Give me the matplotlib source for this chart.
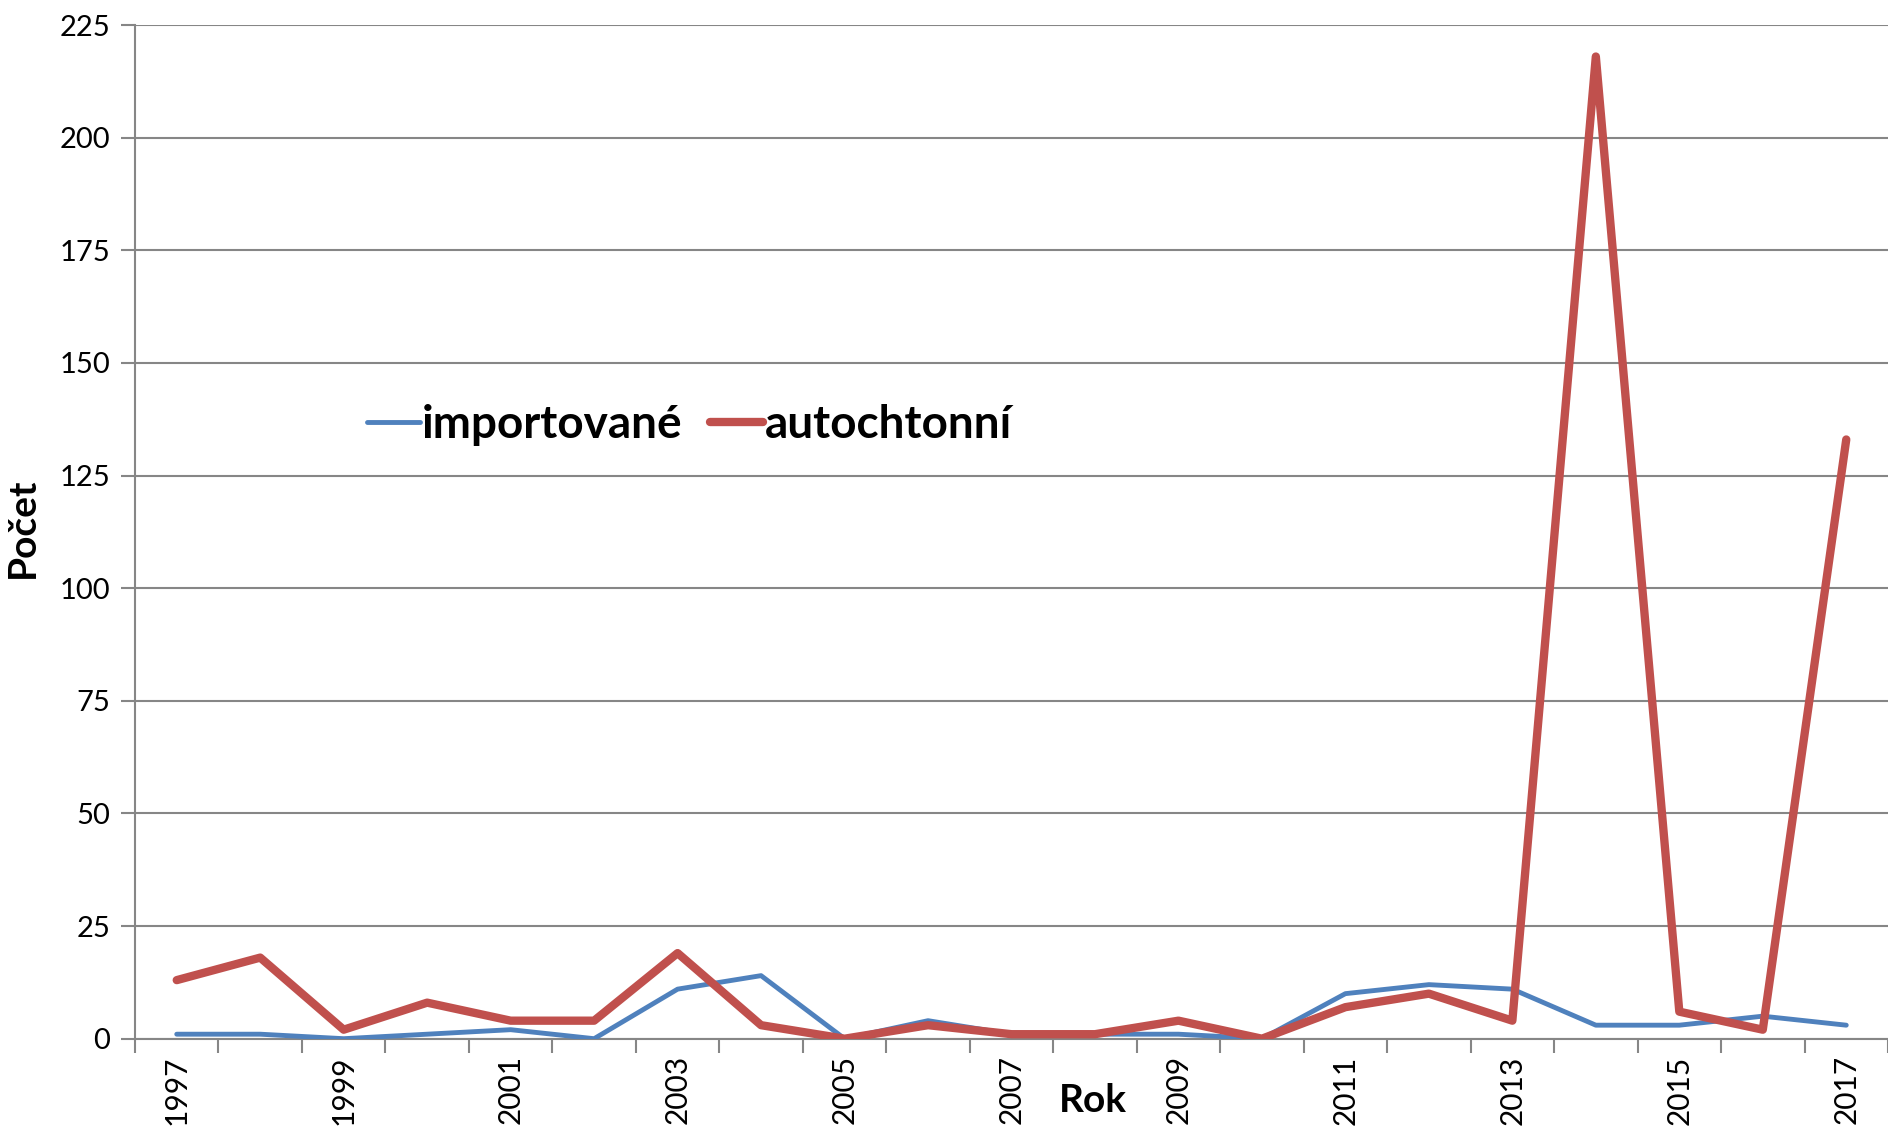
import numpy as np
import matplotlib
matplotlib.use('Agg')
import matplotlib.pyplot as plt

# Données
roky = list(range(1997, 2018))
importovane = [1, 1, 0, 1, 2, 0, 11, 14, 0, 4, 1, 1, 1, 0, 10, 12, 11, 3, 3, 5, 3]
autochtonni = [13, 18, 2, 8, 4, 4, 19, 3, 0, 3, 1, 1, 4, 0, 7, 10, 4, 218, 6, 2, 133]
y_ticks = [0, 25, 50, 75, 100, 125, 150, 175, 200, 225]

plt.rcParams['font.family'] = ['Lato', 'DejaVu Sans']

W, H = 1888, 1126
fig = plt.figure(figsize=(W / 100, H / 100), dpi=100)
ax = fig.add_axes([135 / W, 1 - 1038.7 / H, 1 - 135 / W, (1038.7 - 25) / H])

x = np.arange(len(roky))
ax.plot(x, importovane, color='#4F81BD', lw=3.5, solid_capstyle='round',
        solid_joinstyle='round', label='importované', zorder=3)
ax.plot(x, autochtonni, color='#C0504D', lw=6, solid_capstyle='round',
        solid_joinstyle='round', label='autochtonní', zorder=4)

ax.set_xlim(-0.5, len(roky) - 0.5)
ax.set_ylim(0, 225)
ax.set_yticks(y_ticks)
ax.set_yticklabels([str(v) for v in y_ticks], fontsize=21)
ax.yaxis.grid(True, color='#868686', lw=1.5)
ax.set_axisbelow(True)

# popisky let - jen každý druhý rok
ax.set_xticks(x[::2])
ax.set_xticklabels([str(r) for r in roky[::2]], rotation=90, fontsize=21.5)
ax.set_xticks(np.arange(-0.5, len(roky), 1), minor=True)
ax.tick_params(axis='x', which='major', length=0, pad=12)
ax.tick_params(axis='x', which='minor', length=10, width=1.5, color='#868686')
ax.tick_params(axis='y', length=10, width=1.5, color='#868686', pad=8)

for s in ['top', 'right']:
    ax.spines[s].set_visible(False)
ax.spines['left'].set_color('#868686')
ax.spines['left'].set_linewidth(1.5)
ax.spines['bottom'].set_color('#868686')
ax.spines['bottom'].set_linewidth(1.5)

fig.text(1093 / W, 1 - 1100 / H, 'Rok', fontsize=28, fontweight='bold',
         ha='center', va='center')
fig.text(22 / W, 1 - 528 / H, 'Počet', fontsize=28, fontweight='bold',
         rotation=90, ha='center', va='center')

leg = ax.legend(loc='center left', bbox_to_anchor=(344 / W, 1 - 425 / H),
                bbox_transform=fig.transFigure, ncol=2, frameon=False,
                prop={'size': 33, 'weight': 'bold'}, handlelength=1.15,
                handletextpad=0.05, columnspacing=0.6, borderpad=0)

fig.savefig('out.png', dpi=100)
